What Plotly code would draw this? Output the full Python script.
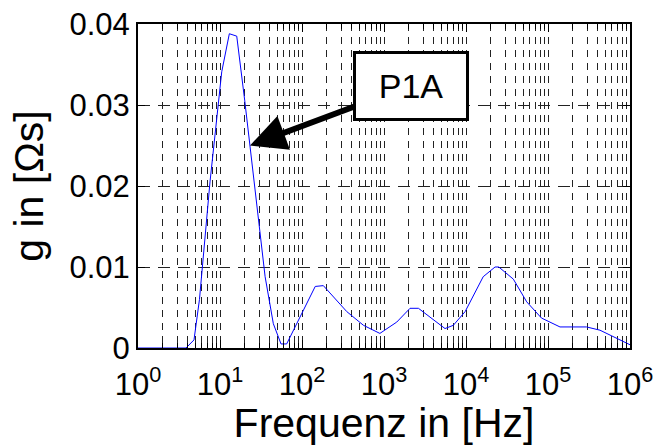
import math
import plotly.graph_objects as go

# Frequency response of g for probe P1A
freq_hz = [1, 3.85, 4.82, 5.62, 7.55, 10.5, 13.0, 16.0, 20.0, 27.7, 35.5, 44.7,
           55.5, 65.0, 145, 182, 351, 562, 891, 1430, 2075, 2630, 3980, 5545,
           7000, 9770, 16200, 22600, 25100, 37800, 55000, 83200, 140000,
           295000, 430000, 1000000]
g_values = [0, 0, 0.001, 0.006, 0.0205, 0.0341, 0.0388, 0.0385, 0.0306, 0.0183,
            0.0088, 0.003, 0.0005, 0.0005, 0.0076, 0.0077, 0.0045, 0.0028,
            0.0018, 0.0032, 0.0049, 0.0049, 0.0035, 0.0024, 0.0028, 0.0045,
            0.0088, 0.01, 0.01, 0.0085, 0.0057, 0.0037, 0.0026, 0.0026,
            0.0022, 0.0004]

x_major = [1, 10, 100, 1000, 10000, 100000, 1000000]
x_major_text = ["10<sup>0</sup>", "10<sup>1</sup>", "10<sup>2</sup>", "10<sup>3</sup>",
                "10<sup>4</sup>", "10<sup>5</sup>", "10<sup>6</sup>"]
x_minor = [m * d for d in [1, 10, 100, 1000, 10000, 100000] for m in range(2, 10)]
y_ticks = [0, 0.01, 0.02, 0.03, 0.04]
y_tick_text = ["0", "0.01", "0.02", "0.03", "0.04"]

# Arrow target on the first resonance peak
label_text = "P1A"
label_freq = 23.2
label_g = 0.025

FONT = "Arial, Liberation Sans, sans-serif"

fig = go.Figure()
fig.add_trace(go.Scatter(x=freq_hz, y=g_values, mode="lines",
                         line=dict(color="#0000ff", width=1), showlegend=False))

fig.update_layout(
    width=655, height=446,
    margin=dict(l=138, r=25, t=24, b=98),
    paper_bgcolor="white", plot_bgcolor="white",
    font=dict(family=FONT, color="black"),
)

fig.update_xaxes(
    type="log", range=[0, 6], automargin=False,
    tickvals=x_major, ticktext=x_major_text,
    tickfont=dict(size=31), ticklabelstandoff=8,
    ticks="inside", ticklen=8, tickcolor="black", tickwidth=1,
    showline=True, linecolor="black", linewidth=2, mirror="allticks",
    showgrid=True, gridcolor="#222222", gridwidth=1, griddash="7px,6px",
    minor=dict(tickvals=x_minor, ticks="inside", ticklen=5, tickcolor="black",
               showgrid=True, gridcolor="#222222", gridwidth=1, griddash="7px,6px"),
    title=dict(text="Frequenz in [Hz]", font=dict(size=41), standoff=4),
    zeroline=False,
)
fig.update_yaxes(
    range=[0, 0.04], automargin=False,
    tickvals=y_ticks, ticktext=y_tick_text,
    tickfont=dict(size=31),
    ticks="inside", ticklen=7, tickcolor="black", tickwidth=1,
    showline=True, linecolor="black", linewidth=2, mirror="allticks",
    showgrid=True, gridcolor="#222222", gridwidth=1, griddash="12px,8px",
    title=dict(text="g in [Ωs]", font=dict(size=41), standoff=13),
    zeroline=False,
)

fig.add_annotation(
    x=math.log10(label_freq), y=label_g, xref="x", yref="y",
    text=label_text, font=dict(size=34, family=FONT, color="black"),
    showarrow=True, arrowhead=2, arrowsize=1.2, arrowwidth=6, arrowcolor="black",
    ax=161, ay=-60,
    bgcolor="white", bordercolor="black", borderwidth=3,
    width=108, height=62,
)

fig.write_html("out.html")
